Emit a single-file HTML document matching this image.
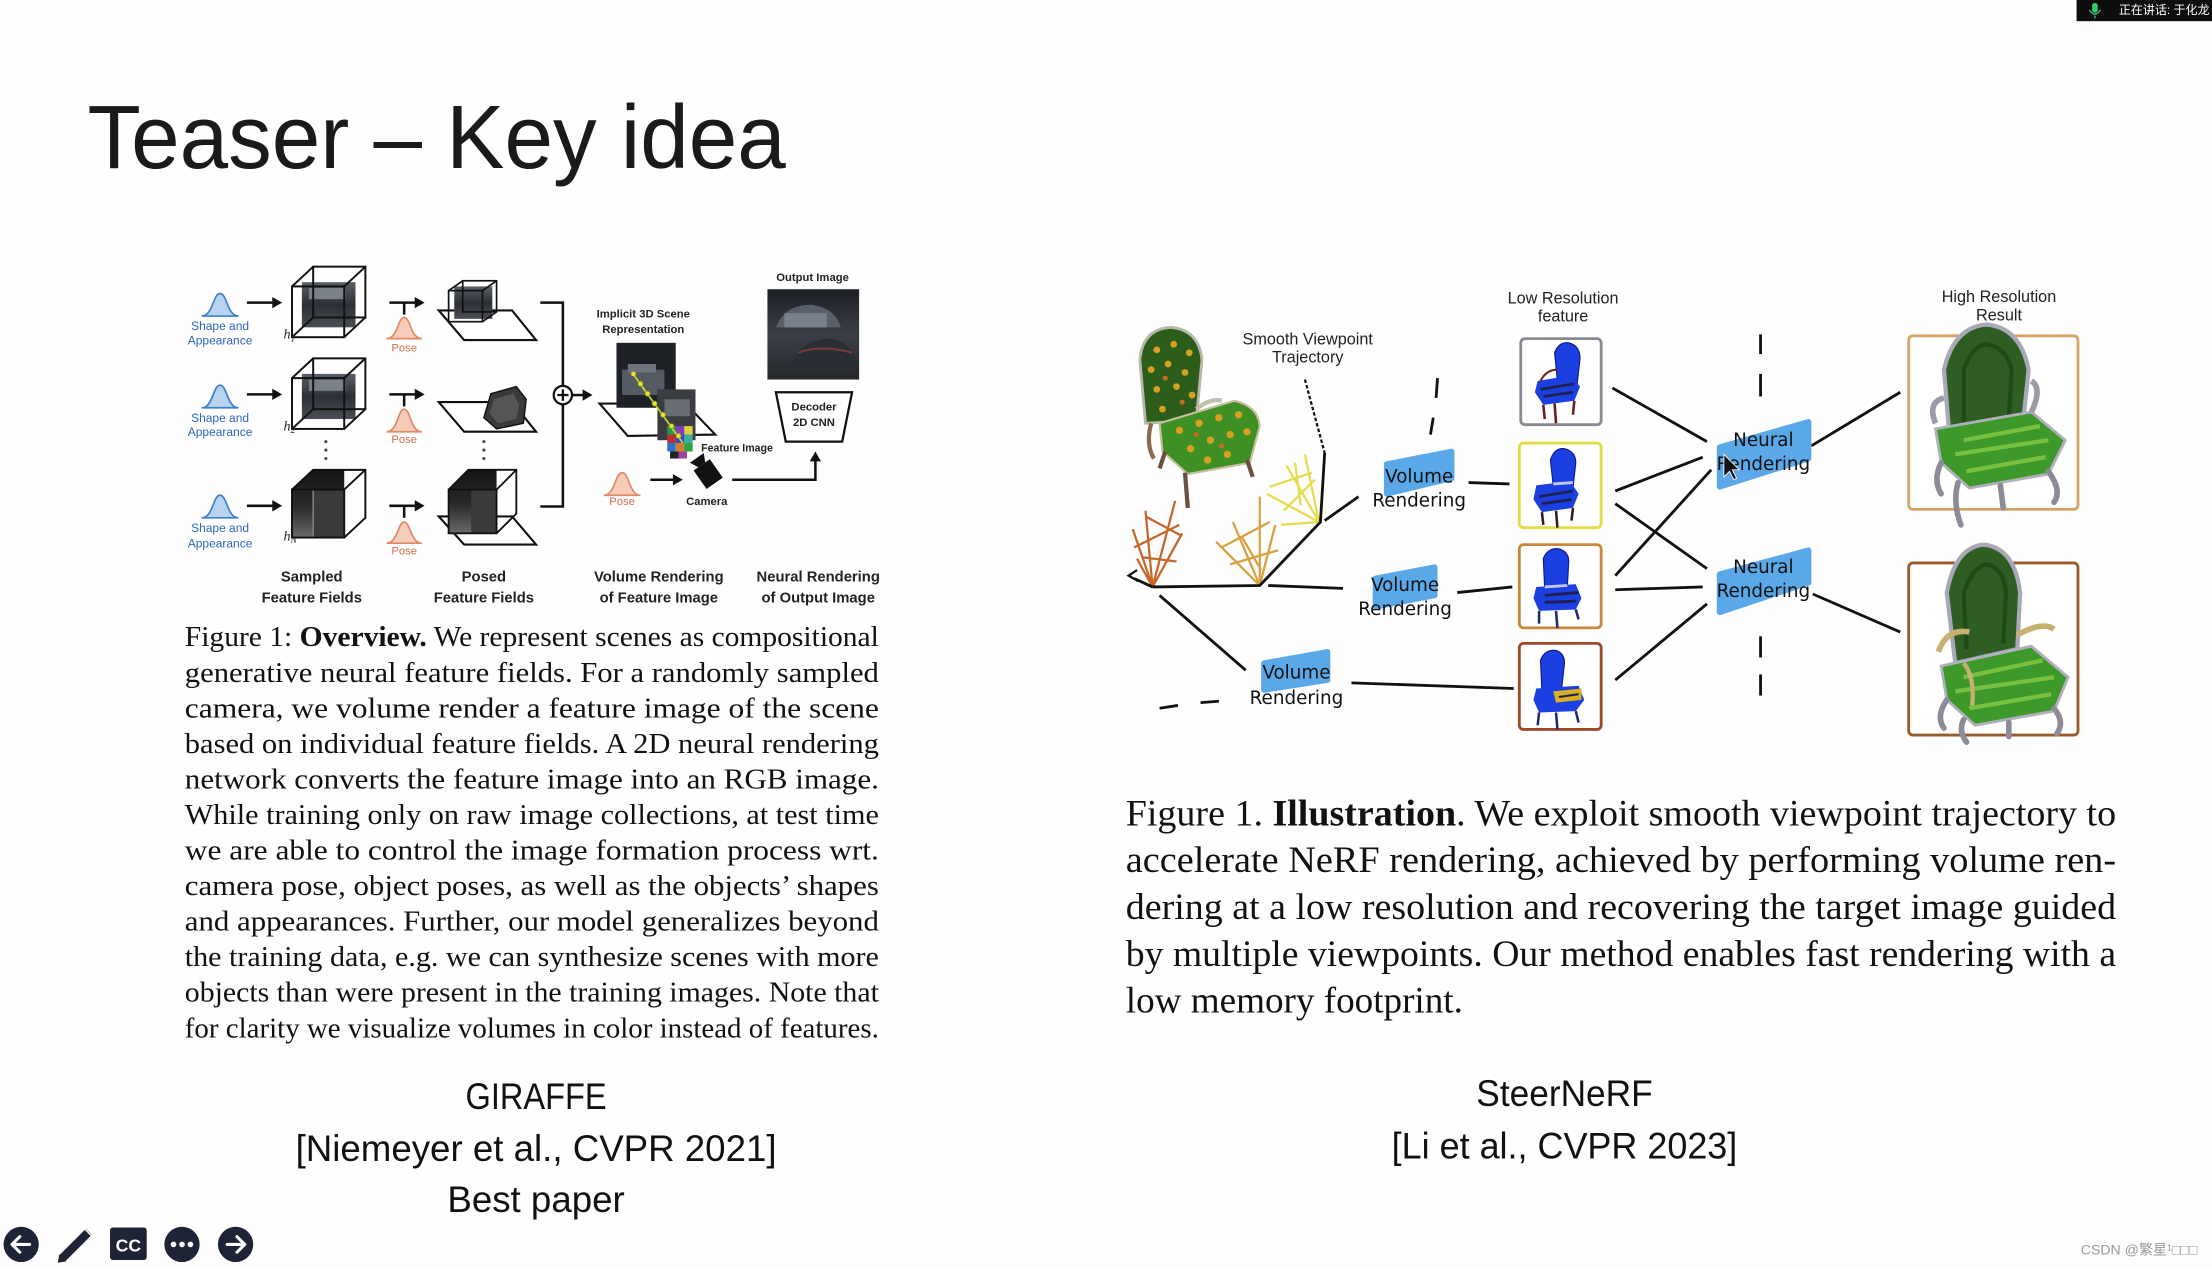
<!DOCTYPE html>
<html><head><meta charset="utf-8"><style>
html,body{margin:0;padding:0;background:#fff;overflow:hidden;}
svg{display:block;}
</style></head><body>
<svg width="2212" height="1267" viewBox="0 0 1568 898" preserveAspectRatio="none" xmlns="http://www.w3.org/2000/svg">
<defs>
<linearGradient id="car" x1="0" y1="0" x2="0" y2="1"><stop offset="0" stop-color="#5a6068"/><stop offset="0.5" stop-color="#2c3036"/><stop offset="1" stop-color="#4a4e54"/></linearGradient>
<linearGradient id="dark" x1="0" y1="0" x2="0" y2="1"><stop offset="0" stop-color="#151515"/><stop offset="0.55" stop-color="#2a2a2a"/><stop offset="1" stop-color="#6a6a6a"/></linearGradient>
<linearGradient id="outimg" x1="0" y1="0" x2="0" y2="1"><stop offset="0" stop-color="#1c1f24"/><stop offset="0.5" stop-color="#3a3e46"/><stop offset="1" stop-color="#25272b"/></linearGradient>
</defs>
<rect width="1568" height="898" fill="#fefefe"/>

<!-- Title -->
<text x="62" y="119" font-family="Liberation Sans, sans-serif" font-size="64" fill="#1a1a1a" textLength="495" lengthAdjust="spacingAndGlyphs">Teaser – Key idea</text>

<!-- top-right speaking box -->
<rect x="1472" y="0" width="96" height="15" fill="#0e0e0e"/>
<rect x="1483" y="2" width="4" height="7" rx="2" fill="#3ec46d"/>
<path d="M1481 7 Q1485 13 1489 7 M1485 11 L1485 13" stroke="#3ec46d" stroke-width="1" fill="none"/>
<text x="1502" y="10" font-family="Liberation Sans, 'Noto Sans CJK SC', sans-serif" font-size="8.5" fill="#fff">正在讲话: 于化龙</text>

<!-- ================= LEFT DIAGRAM (GIRAFFE) ================= -->
<g font-family="Liberation Sans, sans-serif">
<!-- Row gaussians (blue) -->
<g fill="#b8d3f0" stroke="#3f7fd0" stroke-width="1.2">
<path d="M143 224 C151 224 151 208 156 208 C161 208 161 224 169 224 Z"/>
<path d="M143 289 C151 289 151 273 156 273 C161 273 161 289 169 289 Z"/>
<path d="M143 367 C151 367 151 351 156 351 C161 351 161 367 169 367 Z"/>
</g>
<g font-size="8.5" fill="#2f66c0" text-anchor="middle">
<text x="156" y="234">Shape and</text><text x="156" y="244">Appearance</text>
<text x="156" y="299">Shape and</text><text x="156" y="309">Appearance</text>
<text x="156" y="377">Shape and</text><text x="156" y="388">Appearance</text>
</g>
<!-- arrows to cubes -->
<g stroke="#111" stroke-width="1.8">
<line x1="175" y1="214.5" x2="195" y2="214.5"/>
<line x1="175" y1="279.5" x2="195" y2="279.5"/>
<line x1="175" y1="358.5" x2="195" y2="358.5"/>
</g>
<g fill="#111">
<polygon points="200,214.5 193,210.5 193,218.5"/>
<polygon points="200,279.5 193,275.5 193,283.5"/>
<polygon points="200,358.5 193,354.5 193,362.5"/>
</g>
<!-- Cube 1 -->
<rect x="214" y="200" width="38" height="32" fill="url(#car)"/>
<rect x="219" y="204" width="26" height="8" fill="#7a8088"/>
<g fill="none" stroke="#111" stroke-width="1.4">
<rect x="207" y="203" width="37" height="36"/><rect x="222" y="189" width="37" height="36"/>
<line x1="207" y1="203" x2="222" y2="189"/><line x1="244" y1="203" x2="259" y2="189"/>
<line x1="244" y1="239" x2="259" y2="225"/><line x1="207" y1="239" x2="222" y2="225"/>
</g>
<!-- Cube 2 -->
<rect x="214" y="265" width="38" height="32" fill="url(#car)"/>
<rect x="219" y="269" width="26" height="8" fill="#7a8088"/>
<g fill="none" stroke="#111" stroke-width="1.4">
<rect x="207" y="268" width="37" height="36"/><rect x="222" y="254" width="37" height="36"/>
<line x1="207" y1="268" x2="222" y2="254"/><line x1="244" y1="268" x2="259" y2="254"/>
<line x1="244" y1="304" x2="259" y2="290"/><line x1="207" y1="304" x2="222" y2="290"/>
</g>
<!-- Cube 3 (dark) -->
<polygon points="207,347 222,333 244,333 244,381 207,381" fill="url(#dark)"/>
<polygon points="222,347 244,347 244,381 222,381" fill="#3a3a3a"/>
<line x1="222" y1="347" x2="222" y2="381" stroke="#888" stroke-width="1"/>
<g fill="none" stroke="#111" stroke-width="1.4">
<rect x="207" y="347" width="37" height="34"/>
<polyline points="207,347 222,333 259,333 259,367 244,381"/>
<line x1="244" y1="347" x2="259" y2="333"/>
</g>
<!-- h labels -->
<g font-family="Liberation Serif, serif" font-style="italic" font-size="10" fill="#222">
<text x="201" y="240">h<tspan font-size="6.5" dy="2">1</tspan></text>
<text x="201" y="305">h<tspan font-size="6.5" dy="2">2</tspan></text>
<text x="201" y="383">h<tspan font-size="6.5" dy="2">N</tspan></text>
</g>
<!-- dots -->
<g fill="#444">
<circle cx="231" cy="313" r="1.1"/><circle cx="231" cy="319" r="1.1"/><circle cx="231" cy="325" r="1.1"/>
<circle cx="343" cy="313" r="1.1"/><circle cx="343" cy="319" r="1.1"/><circle cx="343" cy="325" r="1.1"/>
</g>
<!-- Pose T arrows -->
<g stroke="#111" stroke-width="1.8">
<line x1="276" y1="214.5" x2="296" y2="214.5"/><line x1="286.5" y1="214.5" x2="286.5" y2="223"/>
<line x1="276" y1="279.5" x2="296" y2="279.5"/><line x1="286.5" y1="279.5" x2="286.5" y2="288"/>
<line x1="276" y1="358.5" x2="296" y2="358.5"/><line x1="286.5" y1="358.5" x2="286.5" y2="367"/>
</g>
<g fill="#111">
<polygon points="301,214.5 294,210.5 294,218.5"/>
<polygon points="301,279.5 294,275.5 294,283.5"/>
<polygon points="301,358.5 294,354.5 294,362.5"/>
</g>
<g fill="#f6cdb8" stroke="#e08a6a" stroke-width="1.2">
<path d="M274 240 C282 240 282 225 286.5 225 C291 225 291 240 299 240 Z"/>
<path d="M274 306 C282 306 282 290 286.5 290 C291 290 291 306 299 306 Z"/>
<path d="M274 385 C282 385 282 370 286.5 370 C291 370 291 385 299 385 Z"/>
<path d="M428 351 C436 351 436 335 441 335 C446 335 446 351 454 351 Z"/>
</g>
<g font-size="8" fill="#d2704f" text-anchor="middle">
<text x="286.5" y="249">Pose</text><text x="286.5" y="314">Pose</text><text x="286.5" y="393">Pose</text><text x="441" y="358">Pose</text>
</g>
<!-- Posed row1 -->
<polygon points="311,220 363,220 380,241 329,241" fill="#fff" stroke="#111" stroke-width="1.5"/>
<rect x="322" y="203" width="27" height="23" fill="url(#car)"/>
<g fill="none" stroke="#111" stroke-width="1.2">
<rect x="318" y="206" width="24" height="22"/><rect x="328" y="199" width="24" height="22"/>
<line x1="318" y1="206" x2="328" y2="199"/><line x1="342" y1="206" x2="352" y2="199"/><line x1="342" y1="228" x2="352" y2="221"/>
</g>
<!-- Posed row2 -->
<polygon points="311,285 363,285 380,306 329,306" fill="#fff" stroke="#111" stroke-width="1.5"/>
<polygon points="348,279 366,274 373,283 371,300 352,304 343,296" fill="#3a3a3a" stroke="#111" stroke-width="1"/>
<polygon points="350,283 364,279 368,287 366,297 353,300 347,293" fill="#555"/>
<!-- Posed row3 -->
<polygon points="311,366 363,366 380,386 329,386" fill="#fff" stroke="#111" stroke-width="1.5"/>
<polygon points="318,347 332,333 352,333 352,378 318,378" fill="url(#dark)"/>
<polygon points="334,347 352,347 352,378 334,378" fill="#3a3a3a"/>
<g fill="none" stroke="#111" stroke-width="1.3">
<rect x="318" y="347" width="34" height="31"/>
<polyline points="318,347 332,333 366,333 366,364 352,378"/>
<line x1="352" y1="347" x2="366" y2="333"/>
</g>
<!-- merge bracket -->
<g stroke="#111" stroke-width="1.8" fill="none">
<polyline points="383,214.5 399,214.5 399,359 383,359"/>
<line x1="406" y1="280" x2="415" y2="280"/>
</g>
<circle cx="399" cy="280" r="6.5" fill="#fff" stroke="#111" stroke-width="1.6"/>
<path d="M395 280 H403 M399 276 V284" stroke="#111" stroke-width="1.6"/>
<polygon points="420,280 413,276 413,284" fill="#111"/>
<!-- Implicit 3D scene -->
<g font-size="8" font-weight="bold" fill="#222" text-anchor="middle">
<text x="456" y="225">Implicit 3D Scene</text><text x="456" y="236">Representation</text>
</g>
<polygon points="425,286 486,286 507,308 445,309" fill="#fff" stroke="#111" stroke-width="1.5"/>
<rect x="437" y="243" width="42" height="46" fill="#1e2126"/>
<rect x="441" y="262" width="30" height="18" fill="#555b63"/>
<rect x="445" y="258" width="20" height="6" fill="#6e747c"/>
<rect x="466" y="276" width="27" height="36" fill="#3a3d42"/>
<rect x="471" y="283" width="18" height="12" fill="#6a6e74"/>
<g>
<rect x="473" y="302" width="6" height="6" fill="#2a9a4a"/><rect x="479" y="302" width="6" height="6" fill="#8a3ac0"/><rect x="485" y="302" width="6" height="6" fill="#e0d040"/>
<rect x="473" y="308" width="6" height="6" fill="#c03030"/><rect x="479" y="308" width="6" height="6" fill="#3050c0"/><rect x="485" y="308" width="6" height="6" fill="#40b0a0"/>
<rect x="473" y="314" width="6" height="6" fill="#3070d0"/><rect x="479" y="314" width="6" height="6" fill="#d08030"/><rect x="485" y="314" width="6" height="6" fill="#30a040"/>
<rect x="475" y="320" width="6" height="5" fill="#222"/><rect x="481" y="320" width="6" height="5" fill="#a040a0"/>
</g>
<line x1="448" y1="264" x2="484" y2="314" stroke="#c8d830" stroke-width="1.2"/>
<g fill="#e6e23a" stroke="#8a8a20" stroke-width="0.5">
<circle cx="449" cy="265" r="1.8"/><circle cx="454" cy="272" r="1.8"/><circle cx="459" cy="279" r="1.8"/><circle cx="464" cy="286" r="1.8"/><circle cx="470" cy="294" r="1.8"/><circle cx="476" cy="302" r="1.8"/><circle cx="481" cy="309" r="1.8"/>
</g>
<text x="497" y="320" font-size="7.5" font-weight="bold" fill="#222">Feature Image</text>
<g transform="rotate(-35 502 336)">
<rect x="495" y="328" width="14" height="16" fill="#111"/>
<polygon points="499,328 505,328 508,322 496,322" fill="#111"/>
</g>
<text x="501" y="358" font-size="8" font-weight="bold" fill="#222" text-anchor="middle">Camera</text>
<line x1="461" y1="340" x2="479" y2="340" stroke="#111" stroke-width="1.8"/>
<polygon points="484,340 477,336 477,344" fill="#111"/>
<polyline points="519,340 578,340 578,326" fill="none" stroke="#111" stroke-width="1.8"/>
<polygon points="578,320 574,327 582,327" fill="#111"/>
<!-- output image -->
<text x="576" y="199" font-size="8" font-weight="bold" fill="#222" text-anchor="middle">Output Image</text>
<rect x="544" y="205" width="65" height="64" fill="url(#outimg)"/>
<path d="M550 232 Q556 216 575 216 Q592 218 596 232 Z" fill="#5a606a"/>
<rect x="556" y="222" width="30" height="10" fill="#7a808a"/>
<path d="M560 262 Q566 240 590 240 Q606 244 609 262 Z" fill="#2a2d33"/>
<path d="M566 250 Q582 244 604 250" stroke="#7a3a3a" stroke-width="1.5" fill="none"/>
<polygon points="550,278 604,278 597,313 557,313" fill="#fff" stroke="#111" stroke-width="1.6"/>
<g font-size="8" font-weight="bold" fill="#222" text-anchor="middle">
<text x="577" y="291">Decoder</text><text x="577" y="302">2D CNN</text>
</g>
<!-- bottom labels -->
<g font-size="10.5" font-weight="bold" fill="#222" text-anchor="middle">
<text x="221" y="412">Sampled</text><text x="221" y="427">Feature Fields</text>
<text x="343" y="412">Posed</text><text x="343" y="427">Feature Fields</text>
<text x="467" y="412">Volume Rendering</text><text x="467" y="427">of Feature Image</text>
<text x="580" y="412">Neural Rendering</text><text x="580" y="427">of Output Image</text>
</g>
</g>

<!-- Left caption -->
<g font-family="Liberation Serif, serif" font-size="20.5" fill="#111">
<text x="131" y="458" textLength="492" lengthAdjust="spacingAndGlyphs">Figure 1: <tspan font-weight="bold">Overview.</tspan> We represent scenes as compositional</text>
<text x="131" y="483.2" textLength="492" lengthAdjust="spacingAndGlyphs">generative neural feature fields.  For a randomly sampled</text>
<text x="131" y="508.4" textLength="492" lengthAdjust="spacingAndGlyphs">camera, we volume render a feature image of the scene</text>
<text x="131" y="533.6" textLength="492" lengthAdjust="spacingAndGlyphs">based on individual feature fields.  A 2D neural rendering</text>
<text x="131" y="558.8" textLength="492" lengthAdjust="spacingAndGlyphs">network converts the feature image into an RGB image.</text>
<text x="131" y="584" textLength="492" lengthAdjust="spacingAndGlyphs">While training only on raw image collections, at test time</text>
<text x="131" y="609.2" textLength="492" lengthAdjust="spacingAndGlyphs">we are able to control the image formation process wrt.</text>
<text x="131" y="634.4" textLength="492" lengthAdjust="spacingAndGlyphs">camera pose, object poses, as well as the objects’ shapes</text>
<text x="131" y="659.6" textLength="492" lengthAdjust="spacingAndGlyphs">and appearances.  Further, our model generalizes beyond</text>
<text x="131" y="684.8" textLength="492" lengthAdjust="spacingAndGlyphs">the training data, e.g. we can synthesize scenes with more</text>
<text x="131" y="710" textLength="492" lengthAdjust="spacingAndGlyphs">objects than were present in the training images. Note that</text>
<text x="131" y="735.2" textLength="492" lengthAdjust="spacingAndGlyphs">for clarity we visualize volumes in color instead of features.</text>
</g>

<!-- Left reference -->
<g font-family="Liberation Sans, sans-serif" font-size="26" fill="#111" text-anchor="middle">
<text x="380" y="786" textLength="100" lengthAdjust="spacingAndGlyphs">GIRAFFE</text>
<text x="380" y="823">[Niemeyer et al., CVPR 2021]</text>
<text x="380" y="859">Best paper</text>
</g>

<!-- ================= RIGHT DIAGRAM (SteerNeRF) ================= -->
<g font-family="Liberation Sans, sans-serif" font-size="11.5" fill="#222" text-anchor="middle">
<text x="927" y="244">Smooth Viewpoint</text><text x="927" y="257">Trajectory</text>
<text x="1108" y="215">Low Resolution</text><text x="1108" y="228">feature</text>
<text x="1417" y="214">High Resolution</text><text x="1417" y="227">Result</text>
</g>

<!-- polka-dot chair -->
<g>
<path d="M812 300 L808 255 Q810 233 830 232 Q850 234 852 255 L848 298 Z" fill="#2d5d1a" stroke="#b8b8a8" stroke-width="2"/>
<path d="M822 300 L875 284 Q892 288 893 302 L886 328 L842 336 L824 320 Z" fill="#3f9024" stroke="#c8c0a0" stroke-width="1.5"/>
<path d="M848 290 Q858 282 866 284" stroke="#c0c0b0" stroke-width="3" fill="none"/>
<path d="M816 300 Q812 315 818 325" stroke="#8a6a4a" stroke-width="3" fill="none"/>
<g stroke="#6a5040" stroke-width="3" fill="none">
<path d="M840 335 L842 360"/><path d="M884 326 L888 338"/><path d="M826 320 L822 332"/>
</g>
<g fill="#d8a020">
<circle cx="820" cy="248" r="2.4"/><circle cx="832" cy="244" r="2.4"/><circle cx="843" cy="250" r="2.4"/><circle cx="816" cy="262" r="2.4"/><circle cx="828" cy="258" r="2.4"/><circle cx="840" cy="264" r="2.4"/><circle cx="820" cy="276" r="2.4"/><circle cx="834" cy="274" r="2.4"/><circle cx="845" cy="280" r="2.4"/><circle cx="824" cy="290" r="2.4"/>
<circle cx="836" cy="305" r="2.6"/><circle cx="850" cy="300" r="2.6"/><circle cx="864" cy="296" r="2.6"/><circle cx="878" cy="294" r="2.6"/><circle cx="844" cy="318" r="2.6"/><circle cx="858" cy="312" r="2.6"/><circle cx="872" cy="308" r="2.6"/><circle cx="884" cy="306" r="2.6"/><circle cx="856" cy="326" r="2.6"/><circle cx="870" cy="322" r="2.6"/>
</g>
<g fill="#c86a20"><circle cx="826" cy="268" r="1.8"/><circle cx="838" cy="285" r="1.8"/><circle cx="866" cy="316" r="1.8"/><circle cx="848" cy="308" r="1.8"/></g>
</g>

<!-- trajectory camera sticks -->
<g stroke-width="1.6" fill="none">
<g stroke="#c7652a">
<path d="M817 416 L803 375 M817 416 L812 362 M817 416 L833 355 M817 416 L838 378 M817 416 L806 396 M804 388 L836 372 M810 395 L834 398 M812 366 L838 380"/>
</g>
<g stroke="#d9a040">
<path d="M893 415 L862 384 M893 415 L874 370 M893 415 L893 352 M893 415 L904 372 M866 388 L900 370 M872 400 L906 390 M880 380 L894 404"/>
</g>
<g stroke="#e6dc50">
<path d="M935 370 L912 330 M935 370 L898 350 M935 370 L925 322 M935 370 L908 372 M900 345 L930 335 M910 362 L932 340 M918 328 L922 358"/>
</g>
</g>

<!-- black connector lines -->
<g stroke="#111" stroke-width="2" fill="none" stroke-linecap="butt">
<line x1="925" y1="269" x2="939" y2="321" stroke-dasharray="2.5 1.5" stroke-width="1.6"/>
<polyline points="939,321 936,370 893,415 817,416"/>
<line x1="817" y1="416" x2="804" y2="410"/>
<line x1="822" y1="422" x2="883" y2="475"/>
<line x1="939" y1="369" x2="963" y2="352"/>
<line x1="899" y1="415" x2="952" y2="417"/>
<line x1="822" y1="502" x2="835" y2="500"/><line x1="851" y1="498" x2="864" y2="497"/>
<line x1="1019" y1="268" x2="1018" y2="282"/><line x1="1016" y1="296" x2="1014" y2="308"/>
<line x1="1041" y1="342" x2="1070" y2="343"/>
<line x1="1033" y1="420" x2="1072" y2="416"/>
<line x1="958" y1="484" x2="1073" y2="488"/>
<line x1="1143" y1="275" x2="1210" y2="313"/>
<line x1="1145" y1="348" x2="1207" y2="324"/>
<line x1="1145" y1="357" x2="1210" y2="403"/>
<line x1="1145" y1="408" x2="1213" y2="333"/>
<line x1="1145" y1="418" x2="1207" y2="416"/>
<line x1="1145" y1="482" x2="1210" y2="428"/>
<line x1="1284" y1="316" x2="1347" y2="278"/>
<line x1="1285" y1="421" x2="1347" y2="448"/>
<line x1="1248" y1="237" x2="1248" y2="251"/><line x1="1248" y1="265" x2="1248" y2="281"/>
<line x1="1248" y1="451" x2="1248" y2="466"/><line x1="1248" y1="478" x2="1248" y2="493"/>
</g>
<path d="M806 404 L800 408 L807 412" stroke="#111" stroke-width="1.6" fill="none"/>

<!-- blue label shapes -->
<g fill="#5aa8e8" stroke="#5aa8e8" stroke-width="4" stroke-linejoin="round">
<polygon points="983,329 1029,320 1029,339 983,350"/>
<polygon points="975,410 1017,402 1017,422 975,430"/>
<polygon points="896,470 941,462 941,482 896,489"/>
<polygon points="1219,317 1282,299 1282,325 1219,345"/>
<polygon points="1219,407 1282,390 1282,413 1219,434"/>
</g>
<g font-family="DejaVu Sans, sans-serif" font-size="13" fill="#111" text-anchor="middle">
<text x="1006" y="342">Volume</text><text x="1006" y="359">Rendering</text>
<text x="996" y="419">Volume</text><text x="996" y="436">Rendering</text>
<text x="919" y="481">Volume</text><text x="919" y="499">Rendering</text>
<text x="1250" y="316">Neural</text><text x="1250" y="333">Rendering</text>
<text x="1250" y="406">Neural</text><text x="1250" y="423">Rendering</text>
</g>
<!-- cursor -->
<path d="M1222 322 L1222 338 L1226 334 L1229 340 L1231 339 L1228 333 L1233 333 Z" fill="#111" stroke="#fff" stroke-width="0.6"/>

<!-- low-res feature boxes -->
<g fill="#fff" stroke-width="2">
<rect x="1078" y="240" width="57" height="61" rx="3" stroke="#8a8a92"/>
<rect x="1077" y="314" width="58" height="60" rx="3" stroke="#e2dc48"/>
<rect x="1077" y="386" width="58" height="59" rx="3" stroke="#c8873a"/>
<rect x="1077" y="456" width="58" height="61" rx="3" stroke="#a0492a"/>
</g>
<!-- blue chairs -->
<g>
<g transform="translate(1078,240)">
<path d="M26 30 L24 10 Q27 2 34 3 Q42 5 42 14 L40 32 Z" fill="#1b3fe0" stroke="#0a1a8a" stroke-width="0.8"/>
<path d="M12 30 L36 26 L42 34 L38 44 L16 47 L10 38 Z" fill="#1b3fe0"/>
<path d="M14 36 L38 32 M16 41 L37 38" stroke="#202050" stroke-width="2"/>
<path d="M14 30 Q18 22 26 22" stroke="#6a2a1a" stroke-width="1.5" fill="none"/>
<path d="M16 47 L17 57 M38 44 L37 54 M24 46 L25 60" stroke="#6a1a1a" stroke-width="1.8"/>
</g>
<g transform="translate(1077,314)">
<path d="M24 30 L22 12 Q25 3 32 4 Q40 6 40 14 L38 32 Z" fill="#1b3fe0" stroke="#0a1a8a" stroke-width="0.8"/>
<path d="M12 30 L36 27 L42 36 L38 46 L16 49 L10 40 Z" fill="#1b3fe0"/>
<path d="M14 38 L38 34 M16 43 L37 40" stroke="#202050" stroke-width="2"/>
<path d="M24 29 L38 28" stroke="#c0c8f0" stroke-width="2"/>
<path d="M16 49 L17 58 M38 46 L37 55 M26 48 L27 60" stroke="#3a1a1a" stroke-width="1.8"/>
</g>
<g transform="translate(1077,386)">
<path d="M18 32 L17 10 Q20 2 28 3 Q35 5 35 12 L34 30 Z" fill="#1b3fe0" stroke="#0a1a8a" stroke-width="0.8"/>
<path d="M12 30 L40 28 L44 38 L40 46 L14 47 L10 38 Z" fill="#1b3fe0"/>
<path d="M18 36 L42 34 M18 41 L40 40" stroke="#202050" stroke-width="2"/>
<path d="M18 30 L34 29" stroke="#c0c8f0" stroke-width="2"/>
<path d="M14 47 L14 56 M40 46 L42 53 M26 47 L27 59" stroke="#1a2a7a" stroke-width="1.8"/>
</g>
<g transform="translate(1077,456)">
<path d="M16 34 L15 12 Q18 4 26 5 Q32 7 32 14 L30 32 Z" fill="#1b3fe0" stroke="#0a1a8a" stroke-width="0.8"/>
<path d="M12 32 L42 30 L46 40 L40 48 L14 49 L10 40 Z" fill="#1b3fe0"/>
<path d="M24 34 L44 32 L44 40 L26 42 Z" fill="#d8b020"/>
<path d="M28 38 L42 36" stroke="#202050" stroke-width="1.5"/>
<path d="M14 49 L13 58 M40 48 L42 56 M26 49 L27 61" stroke="#1a2a7a" stroke-width="1.8"/>
</g>
</g>

<!-- high-res result boxes -->
<rect x="1353" y="238" width="120" height="123" rx="3" fill="#fff" stroke="#d4a468" stroke-width="2"/>
<rect x="1353" y="399" width="120" height="122" rx="3" fill="#fff" stroke="#9a5a2a" stroke-width="2"/>
<!-- HR chair 1 -->
<g>
<path d="M1382 310 L1378 262 Q1385 232 1408 230 Q1432 232 1438 262 L1434 300 Z" fill="#2f5e22" stroke="#a8a8b8" stroke-width="3"/>
<path d="M1392 300 L1392 262 Q1398 245 1408 244 Q1422 246 1426 262 L1424 296" stroke="#1e4a16" stroke-width="3" fill="none"/>
<path d="M1372 304 L1440 292 L1464 312 L1452 336 L1396 346 L1376 328 Z" fill="#3d9a2a" stroke="#b0b0bc" stroke-width="2"/>
<path d="M1392 312 L1446 302 M1386 322 L1452 312 M1394 334 L1450 324" stroke="#7ac040" stroke-width="3"/>
<path d="M1372 300 Q1366 285 1378 282 M1440 292 Q1448 275 1440 270" stroke="#9a9aa8" stroke-width="4" fill="none"/>
<g stroke="#8c8c99" stroke-width="4" fill="none" stroke-linecap="round">
<path d="M1388 342 Q1384 356 1390 372"/><path d="M1452 334 Q1462 348 1456 356"/><path d="M1418 344 L1420 360"/><path d="M1376 328 Q1370 340 1376 350"/>
</g>
</g>
<!-- HR chair 2 -->
<g>
<path d="M1386 470 L1380 420 Q1386 388 1406 386 Q1428 388 1432 420 L1430 460 Z" fill="#2f5e22" stroke="#a8a8b8" stroke-width="3"/>
<path d="M1394 460 L1392 420 Q1398 402 1408 400 Q1420 402 1422 420 L1420 456" stroke="#1e4a16" stroke-width="3" fill="none"/>
<path d="M1376 472 L1440 458 L1466 480 L1456 504 L1400 514 L1380 496 Z" fill="#3d9a2a" stroke="#b0b0bc" stroke-width="2"/>
<path d="M1392 480 L1448 468 M1386 490 L1456 480 M1396 502 L1454 492" stroke="#7ac040" stroke-width="3"/>
<path d="M1374 462 Q1380 445 1396 448 M1430 450 Q1448 440 1456 446" stroke="#c8b070" stroke-width="4" fill="none"/>
<path d="M1392 470 Q1400 480 1398 500" stroke="#c8b070" stroke-width="3" fill="none"/>
<g stroke="#8c8c99" stroke-width="4" fill="none" stroke-linecap="round">
<path d="M1392 510 Q1388 518 1394 526"/><path d="M1456 502 Q1464 512 1458 520"/><path d="M1380 496 Q1372 508 1378 516"/><path d="M1424 512 L1424 522"/>
</g>
</g>

<!-- Right caption -->
<g font-family="Liberation Serif, serif" font-size="26" fill="#111">
<text x="798" y="585" textLength="702" lengthAdjust="spacingAndGlyphs">Figure 1. <tspan font-weight="bold">Illustration</tspan>. We exploit smooth viewpoint trajectory to</text>
<text x="798" y="618.2" textLength="702" lengthAdjust="spacingAndGlyphs">accelerate NeRF rendering, achieved by performing volume ren-</text>
<text x="798" y="651.4" textLength="702" lengthAdjust="spacingAndGlyphs">dering at a low resolution and recovering the target image guided</text>
<text x="798" y="684.6" textLength="702" lengthAdjust="spacingAndGlyphs">by multiple viewpoints. Our method enables fast rendering with a</text>
<text x="798" y="717.8" textLength="239" lengthAdjust="spacingAndGlyphs">low memory footprint.</text>
</g>

<!-- Right reference -->
<g font-family="Liberation Sans, sans-serif" font-size="26" fill="#111" text-anchor="middle">
<text x="1109" y="784" textLength="125" lengthAdjust="spacingAndGlyphs">SteerNeRF</text>
<text x="1109" y="821" textLength="245" lengthAdjust="spacingAndGlyphs">[Li et al., CVPR 2023]</text>
</g>

<!-- bottom-left control icons -->
<g>
<circle cx="15" cy="882" r="12.5" fill="#1f2336"/>
<path d="M21 882 H9 M14 876.5 L8.5 882 L14 887.5" stroke="#fff" stroke-width="2.2" fill="none" stroke-linecap="round" stroke-linejoin="round"/>
<path d="M44 892 L63 873" stroke="#1f2336" stroke-width="6" stroke-linecap="butt"/>
<polygon points="41,895 42,889 47,894" fill="#1f2336"/>
<path d="M60 871 L65 876" stroke="#fff" stroke-width="1"/>
<rect x="78" y="870" width="26" height="23" rx="2" fill="#1f2336"/>
<text x="91" y="887" font-family="Liberation Sans, sans-serif" font-size="12.5" font-weight="bold" fill="#fff" text-anchor="middle">CC</text>
<circle cx="129" cy="882" r="12.5" fill="#1f2336"/>
<circle cx="123" cy="882" r="2" fill="#fff"/><circle cx="129" cy="882" r="2" fill="#fff"/><circle cx="135" cy="882" r="2" fill="#fff"/>
<circle cx="167" cy="882" r="12.5" fill="#1f2336"/>
<path d="M161 882 H173 M168 876.5 L173.5 882 L168 887.5" stroke="#fff" stroke-width="2.2" fill="none" stroke-linecap="round" stroke-linejoin="round"/>
</g>

<!-- watermark -->
<text x="1475" y="889" font-family="Liberation Sans, 'Noto Sans CJK SC', sans-serif" font-size="10" fill="#9a9a9a">CSDN @繁星¹□□□</text>
</svg>
</body></html>
